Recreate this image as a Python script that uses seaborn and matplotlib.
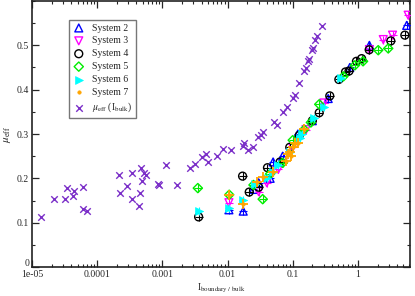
import numpy as np
import pandas as pd
import seaborn as sns
import matplotlib.pyplot as plt
import matplotlib.transforms as mtransforms
from matplotlib.ticker import FixedLocator, LogLocator, NullFormatter, MultipleLocator

sns.set_style("ticks")
plt.rcParams["font.family"] = ["Liberation Serif", "DejaVu Serif"]
plt.rcParams["mathtext.fontset"] = "stix"
plt.rcParams["xtick.direction"] = "in"
plt.rcParams["ytick.direction"] = "in"
plt.rcParams["xtick.top"] = True
plt.rcParams["ytick.right"] = True

# ---- data ----
s2_x = [0.0105, 0.0174, 0.025, 0.03, 0.045, 0.05, 0.07, 0.12, 0.2, 0.35, 0.75, 1.5, 5.6]
s2_y = [0.129, 0.126, 0.175, 0.19, 0.20, 0.237, 0.25, 0.30, 0.33, 0.38, 0.45, 0.50, 0.545]

s3_x = [0.0105, 0.03, 0.04, 0.06, 0.1, 0.16, 0.3, 1.5, 2.45, 3.4, 5.9]
s3_y = [0.145, 0.17, 0.19, 0.22, 0.27, 0.31, 0.37, 0.49, 0.513, 0.523, 0.568]

s4_x = [0.0036, 0.017, 0.0215, 0.03, 0.041, 0.064, 0.09, 0.126, 0.2, 0.255, 0.37,
        0.51, 0.646, 0.73, 0.95, 1.14, 1.49, 3.2, 5.25]
s4_y = [0.113, 0.205, 0.169, 0.18, 0.224, 0.237, 0.27, 0.297, 0.33, 0.348, 0.386,
        0.423, 0.44, 0.442, 0.464, 0.47, 0.49, 0.51, 0.523]

s5_x = [0.0035, 0.0106, 0.025, 0.0346, 0.045, 0.07, 0.1, 0.15, 0.19, 0.255, 0.6,
        0.9, 1.2, 2.05, 2.92]
s5_y = [0.178, 0.163, 0.185, 0.153, 0.21, 0.235, 0.286, 0.31, 0.326, 0.367, 0.43,
        0.455, 0.464, 0.489, 0.493]

s6_x = [0.0036, 0.0105, 0.0174, 0.026, 0.04, 0.05, 0.06, 0.09, 0.13, 0.14, 0.21, 0.3, 0.55]
s6_y = [0.126, 0.134, 0.152, 0.188, 0.20, 0.215, 0.23, 0.26, 0.29, 0.30, 0.335, 0.36, 0.427]

s7_x = [0.0105, 0.0172, 0.028, 0.035, 0.05, 0.08, 0.085, 0.09, 0.095, 0.1, 0.107, 0.12, 0.15]
s7_y = [0.163, 0.143, 0.192, 0.203, 0.215, 0.24, 0.255, 0.26, 0.25, 0.27, 0.279, 0.28, 0.312]

bulk_x = [1.37e-5, 2.2e-5, 3.2e-5, 3.4e-5, 4.2e-5, 4.4e-5, 6.1e-5, 6.0e-5, 6.9e-5,
          2.16e-4, 2.21e-4, 2.83e-4, 3.38e-4, 3.45e-4, 4.37e-4, 4.53e-4, 4.70e-4,
          4.81e-4, 5.22e-4, 5.55e-4, 8.67e-4, 8.9e-4, 1.12e-3, 1.66e-3, 2.65e-3,
          3.16e-3, 4.01e-3, 4.61e-3, 4.95e-3, 6.8e-3, 8.6e-3, 0.0113, 0.0170,
          0.0179, 0.0208, 0.0248, 0.0296, 0.0325, 0.0353, 0.052, 0.0566, 0.070,
          0.0805, 0.0995, 0.108, 0.123, 0.149, 0.158, 0.171, 0.179, 0.195, 0.207,
          0.219, 0.233, 0.283]
bulk_y = [0.113, 0.153, 0.153, 0.178, 0.161, 0.171, 0.180, 0.131, 0.126,
          0.207, 0.168, 0.183, 0.213, 0.153, 0.138, 0.168, 0.223,
          0.194, 0.211, 0.208, 0.188, 0.184, 0.231, 0.184, 0.223,
          0.233, 0.248, 0.254, 0.237, 0.250, 0.266, 0.263, 0.273,
          0.280, 0.263, 0.271, 0.293, 0.297, 0.304, 0.326, 0.320, 0.350,
          0.362, 0.381, 0.388, 0.415, 0.441, 0.449, 0.465, 0.469, 0.490, 0.495,
          0.511, 0.520, 0.543]

systems = [
    ("System 2", s2_x, s2_y, "^", "#0000ff", True),
    ("System 3", s3_x, s3_y, "v", "#ff00ff", True),
    ("System 4", s4_x, s4_y, "o", "#000000", True),
    ("System 5", s5_x, s5_y, "D", "#00ee00", True),
    ("System 6", s6_x, s6_y, ">", "#00ffff", False),
    ("System 7", s7_x, s7_y, "o", "#ffa500", False),
]

fig = plt.figure(figsize=(4.15, 2.96), dpi=100)
ax = fig.add_axes([32 / 415, 29 / 296, 378 / 415, 266 / 296])

for label, xs, ys, mk, col, hollow in systems:
    size = 6 if label == "System 7" else (22 if mk == "D" else 32)
    if hollow:
        sns.scatterplot(x=xs, y=ys, marker=mk, s=size, color=col, facecolor="none",
                        edgecolor=col, linewidth=1.0, label=label, ax=ax, zorder=3)
    else:
        sns.scatterplot(x=xs, y=ys, marker=mk, s=size, color=col, edgecolor=col,
                        linewidth=0.5, label=label, ax=ax, zorder=3)
    # small error bars show up as a cross through each marker
    sns.scatterplot(x=xs, y=ys, marker="+", s=45 if label == "System 7" else 30,
                    color=col, linewidth=0.8 if label != "System 7" else 1.3,
                    label="_nolegend_", ax=ax, zorder=3, legend=False)

sns.scatterplot(x=bulk_x, y=bulk_y, marker="x", s=22, color="#7b2fc8", linewidth=1.0,
                label=r"$\mu_{\rm eff}$ (I$_{\rm bulk}$)", ax=ax, zorder=2)

ax.set_xscale("log")
ax.set_xlim(1e-5, 6.3)
ax.set_ylim(0, 0.6)

xt = [1e-5, 1e-4, 1e-3, 1e-2, 1e-1, 1]
ax.xaxis.set_major_locator(FixedLocator(xt))
ax.set_xticklabels(["1e-05", "0.0001", "0.001", "0.01", "0.1", "1"])
ax.xaxis.set_minor_locator(LogLocator(base=10, subs=np.arange(2, 10), numticks=20))
ax.xaxis.set_minor_formatter(NullFormatter())
ax.set_yticks([0, 0.1, 0.2, 0.3, 0.4, 0.5])
ax.set_yticklabels(["0", "0.1", "0.2", "0.3", "0.4", "0.5"])
ax.yaxis.set_minor_locator(MultipleLocator(0.05))

ax.tick_params(which="major", length=5, width=0.9, labelsize=7, pad=2)
ax.tick_params(which="minor", length=2.5, width=0.8)
for sp in ax.spines.values():
    sp.set_linewidth(1.2)
    sp.set_color("#222222")

# lift the "0" a little so it clears the "1e-05" underneath
zero_lbl = ax.get_yticklabels()[0]
zero_lbl.set_transform(zero_lbl.get_transform() +
                       mtransforms.ScaledTranslation(0, 3 / 72, fig.dpi_scale_trans))

ax.set_xlabel(r"I$_{\rm boundary\ /\ bulk}$", fontsize=7, labelpad=2)
ax.set_ylabel(r"$\mu_{\rm eff}$", fontsize=8, labelpad=3)

leg = ax.legend(loc="upper left", bbox_to_anchor=(0.098, 0.93), borderaxespad=0,
                fontsize=7, frameon=True, fancybox=False, labelspacing=0.4,
                handlelength=1.2, handletextpad=0.8, borderpad=0.4)
leg.get_frame().set_edgecolor("#555555")
leg.get_frame().set_linewidth(1.0)

fig.savefig("out.png", dpi=100)
